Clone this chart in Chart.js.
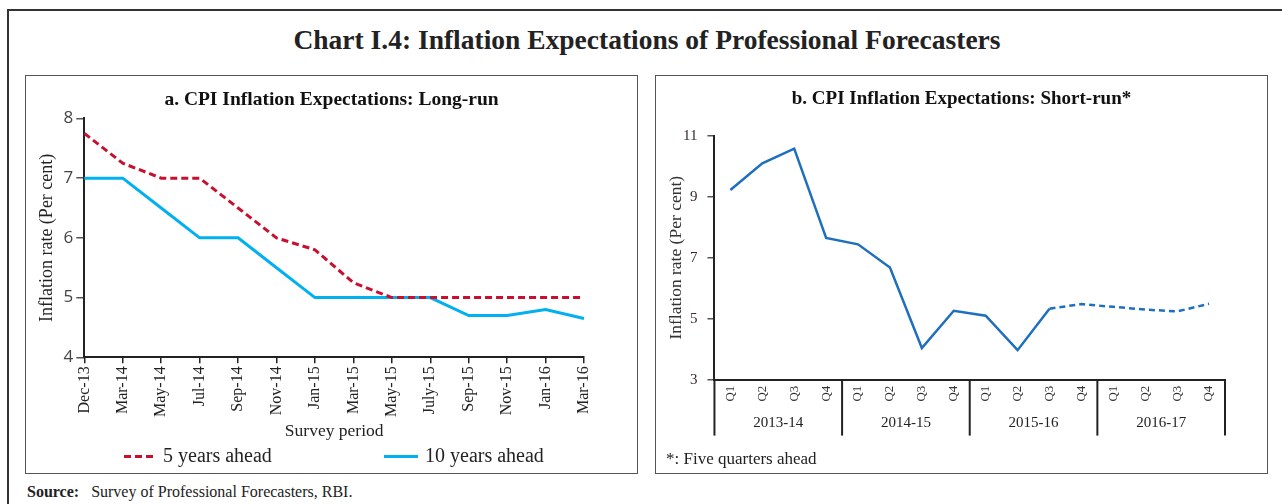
<!DOCTYPE html>
<html>
<head>
<meta charset="utf-8">
<script src="https://cdn.jsdelivr.net/npm/chart.js@4.4.1/dist/chart.umd.min.js"></script>
<style>
  body { margin: 0; width: 1282px; height: 504px; overflow: hidden; background: #fff; position: relative; font-family: "Liberation Serif", serif; color: #222; }
  #frame { position: absolute; left: 7px; top: 9px; width: 1300px; height: 520px; border: 2px solid #333; }
  #title { position: absolute; left: 0; width: 1294px; top: 24px; text-align: center; font-weight: bold; font-size: 27.5px; color: #222; }
  .panel { position: absolute; top: 75px; width: 611px; height: 397px; border: 1.5px solid #555; }
  #pa { left: 25px; }
  #pb { left: 655px; }
  .panel canvas { position: absolute; left: 0; top: 0; }
  #legendA { position: absolute; top: 368px; left: 0; width: 611px; height: 22px; line-height: 22px; font-size: 20px; }
  .item { position: absolute; top: 0; white-space: nowrap; }
  .sample { display: inline-block; height: 3px; vertical-align: middle; position: relative; top: -1px; }
  #source { position: absolute; left: 27px; top: 483px; font-size: 16px; }
</style>
</head>
<body>
<div id="frame"></div>
<div id="title">Chart I.4: Inflation Expectations of Professional Forecasters</div>
<div class="panel" id="pa">
  <canvas id="chartA" width="611" height="397"></canvas>
  <div id="legendA">
    <span class="item" style="left:98px"><span class="sample" style="width:29px;margin-right:10px;background:repeating-linear-gradient(90deg,#c8102e 0 7px,transparent 7px 11px)"></span>5 years ahead</span>
    <span class="item" style="left:358px"><span class="sample" style="width:34px;margin-right:7px;background:#00b0f0"></span>10 years ahead</span>
  </div>
</div>
<div class="panel" id="pb">
  <canvas id="chartB" width="611" height="397"></canvas>
</div>
<div id="source"><b>Source:</b>&nbsp;&nbsp; Survey of Professional Forecasters, RBI.</div>

<script>
// panel a: long-run expectations
const surveyPeriods = ['Dec-13', 'Mar-14', 'May-14', 'Jul-14', 'Sep-14', 'Nov-14', 'Jan-15', 'Mar-15', 'May-15', 'July-15', 'Sep-15', 'Nov-15', 'Jan-16', 'Mar-16'];
const fiveYearsAhead = [7.75, 7.25, 7.0, 7.0, 6.5, 6.0, 5.8, 5.25, 5.0, 5.0, 5.0, 5.0, 5.0, 5.0];
const tenYearsAhead = [7.0, 7.0, 6.5, 6.0, 6.0, 5.5, 5.0, 5.0, 5.0, 5.0, 4.7, 4.7, 4.8, 4.65];

// panel b: short-run expectations (five quarters ahead)
const quarterLabels = ['Q1', 'Q2', 'Q3', 'Q4', 'Q1', 'Q2', 'Q3', 'Q4', 'Q1', 'Q2', 'Q3', 'Q4', 'Q1', 'Q2', 'Q3', 'Q4'];
const yearLabels = ['2013-14', '2014-15', '2015-16', '2016-17'];
const shortRun = [9.22, 10.1, 10.58, 7.65, 7.44, 6.68, 4.04, 5.26, 5.1, 3.97, 5.33, 5.48, 5.39, 5.3, 5.24, 5.49];
const forecastStart = 10; // dashed from here on

const serif = '"Liberation Serif", serif';
const axisColor = '#222';

// empty axis on the right, only to keep the plot narrower while the title stays centred
function spacerAxis(width) {
  return {
    position: 'right',
    grid: { display: false },
    border: { display: false },
    ticks: { display: false },
    afterFit(scale) { scale.width = width; }
  };
}

function renderLongRun() {
  const canvas = document.getElementById('chartA');
  return new Chart(canvas, {
    type: 'line',
    data: {
      labels: surveyPeriods,
      datasets: [
        {
          label: '5 years ahead',
          data: fiveYearsAhead,
          borderColor: '#c8102e',
          borderWidth: 3,
          borderDash: [7, 4],
          pointRadius: 0,
          tension: 0,
          fill: false
        },
        {
          label: '10 years ahead',
          data: tenYearsAhead,
          borderColor: '#00b0f0',
          borderWidth: 3,
          pointRadius: 0,
          tension: 0,
          fill: false
        }
      ]
    },
    options: {
      responsive: false,
      animation: false,
      layout: { padding: { left: 10, right: 10, top: 0, bottom: 31 } },
      plugins: {
        legend: { display: false },
        tooltip: { enabled: false },
        title: {
          display: true,
          text: 'a. CPI Inflation Expectations: Long-run',
          color: '#111',
          font: { family: serif, size: 19.5, weight: 'bold' },
          padding: { top: 12, bottom: 7 }
        }
      },
      scales: {
        x: {
          grid: { drawOnChartArea: false, tickLength: 6, color: axisColor, lineWidth: 1.5 },
          border: { color: axisColor, width: 2 },
          ticks: { minRotation: 90, maxRotation: 90, autoSkip: false, color: '#222', padding: 3, font: { family: serif, size: 16 } },
          title: { display: true, text: 'Survey period', color: '#222', padding: { top: 1, bottom: 0 }, font: { family: serif, size: 17.5 } }
        },
        y: {
          min: 4,
          max: 8,
          ticks: { stepSize: 1, color: '#444', padding: 3, font: { family: '"Open Sans", sans-serif', size: 17 } },
          grid: { drawOnChartArea: false, tickLength: 8, color: '#555', lineWidth: 1.5 },
          border: { color: axisColor, width: 2 },
          title: { display: true, text: 'Inflation rate (Per cent)', color: '#222', padding: { top: 0, bottom: 3 }, font: { family: serif, size: 18 } }
        },
        yPad: spacerAxis(43)
      }
    }
  });
}

// vertical separators between fiscal years under the quarter labels
const yearDividers = {
  id: 'yearDividers',
  afterDraw(chart) {
    const x = chart.scales.x;
    const x2 = chart.scales.x2;
    const ctx = chart.ctx;
    const step = x.getPixelForValue(1) - x.getPixelForValue(0);
    ctx.save();
    ctx.strokeStyle = axisColor;
    ctx.lineWidth = 2;
    for (let i = 0; i <= quarterLabels.length; i += 4) {
      const px = x.getPixelForValue(i) - step / 2;
      ctx.beginPath();
      ctx.moveTo(px, x.top);
      ctx.lineTo(px, x2.bottom - 2);
      ctx.stroke();
    }
    ctx.restore();
  }
};

function renderShortRun() {
  const canvas = document.getElementById('chartB');
  return new Chart(canvas, {
    type: 'line',
    data: {
      labels: quarterLabels,
      datasets: [
        {
          label: 'Short-run',
          data: shortRun,
          borderColor: '#1f6fbf',
          borderWidth: 2.5,
          pointRadius: 0,
          tension: 0,
          fill: false,
          segment: {
            borderDash: ctx => ctx.p0DataIndex >= forecastStart ? [6, 4] : []
          }
        }
      ]
    },
    plugins: [yearDividers],
    options: {
      responsive: false,
      animation: false,
      layout: { padding: { left: 10, right: 10, top: 0, bottom: 3 } },
      plugins: {
        legend: { display: false },
        tooltip: { enabled: false },
        title: {
          display: true,
          text: 'b. CPI Inflation Expectations: Short-run*',
          color: '#111',
          font: { family: serif, size: 19, weight: 'bold' },
          padding: { top: 12, bottom: 25 }
        },
        subtitle: {
          display: true,
          position: 'bottom',
          align: 'start',
          text: '*: Five quarters ahead',
          color: '#222',
          font: { family: serif, size: 17 },
          padding: { top: 12, bottom: 0 }
        }
      },
      scales: {
        x: {
          offset: true,
          grid: { display: false, drawTicks: false },
          border: { color: axisColor, width: 2 },
          ticks: { minRotation: 90, maxRotation: 90, autoSkip: false, color: '#333', padding: 6, font: { family: serif, size: 13 } }
        },
        x2: {
          type: 'category',
          labels: yearLabels,
          position: 'bottom',
          offset: true,
          grid: { display: false, drawTicks: false },
          border: { display: false },
          ticks: { color: '#222', padding: 6, font: { family: serif, size: 15 } }
        },
        y: {
          min: 3,
          max: 11,
          ticks: { stepSize: 2, color: '#3a2a2a', padding: 10, font: { family: serif, size: 15 } },
          grid: { drawOnChartArea: false, tickLength: 7, color: '#555', lineWidth: 1.5 },
          border: { color: axisColor, width: 2 },
          title: { display: true, text: 'Inflation rate (Per cent)', color: '#333', padding: { top: 0, bottom: -14 }, font: { family: serif, size: 17.5 } }
        },
        yPad: spacerAxis(32)
      }
    }
  });
}

renderLongRun();
renderShortRun();
</script>
</body>
</html>
